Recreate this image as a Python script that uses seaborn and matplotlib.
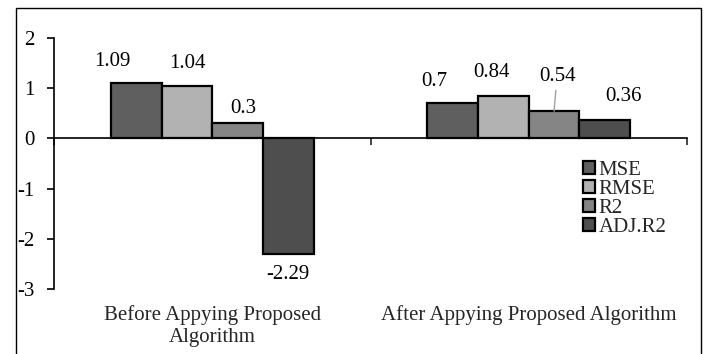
import matplotlib
matplotlib.use('Agg')
import matplotlib.pyplot as plt
from matplotlib.patches import Rectangle, Patch
import pandas as pd
import seaborn as sns

phases = ['Before Appying Proposed\nAlgorithm', 'After Appying Proposed Algorithm']
metrics = ['MSE', 'RMSE', 'R2', 'ADJ.R2']
before_vals = [1.09, 1.04, 0.3, -2.29]
after_vals = [0.7, 0.84, 0.54, 0.36]
colors = ['#5f5f5f', '#b2b2b2', '#858585', '#4e4e4e']

# where the value labels sit, in pixels from the end of each bar
label_dx = [[-24, 0, 6, 0], [-18, -12, 3, 19]]
label_dy = [[22, 23, 15, -21], [22, 24, 35, 24]]

rows = []
for phase, vals in zip(phases, [before_vals, after_vals]):
    for m, v in zip(metrics, vals):
        rows.append({'phase': phase, 'metric': m, 'value': v})
df = pd.DataFrame(rows)

sns.set_theme(style='white')
plt.rcParams['font.family'] = ['Liberation Serif', 'DejaVu Serif']
plt.rcParams['axes.unicode_minus'] = False
FS = 15

fig = plt.figure(figsize=(7.09, 3.54), dpi=100)
ax = fig.add_axes([54 / 709, 1 - 289.3 / 354, 633 / 709, 251.6 / 354])

sns.barplot(data=df, x='phase', y='value', hue='metric', order=phases,
            hue_order=metrics, palette=dict(zip(metrics, colors)),
            width=0.64, edgecolor='black', linewidth=1.6, errorbar=None,
            legend=False, ax=ax)

# value labels
for i, cont in enumerate(ax.containers):
    for j, bar in enumerate(cont):
        val = bar.get_height()
        x = bar.get_x() + bar.get_width() / 2
        kw = {}
        if j == 1 and i == 2:
            kw['arrowprops'] = dict(arrowstyle='-', color='#a0a0a0', lw=1,
                                    shrinkA=1, shrinkB=0)
        ax.annotate(f'{val:g}', xy=(x, val), xytext=(label_dx[j][i], label_dy[j][i]),
                    textcoords='offset pixels', ha='center', va='center',
                    fontsize=FS, color='black', **kw)

# axes styling
ax.set_xlim(-0.5, 1.5)
ax.set_ylim(-3, 2)
ax.set_yticks([-3, -2, -1, 0, 1, 2])
ax.set_xticks([-0.5, 0.5, 1.5])
ax.set_xticklabels([])
ax.set_xlabel('')
ax.set_ylabel('')
for s in ['top', 'right']:
    ax.spines[s].set_visible(False)
ax.spines['bottom'].set_position(('data', 0))
for s in ['left', 'bottom']:
    ax.spines[s].set_color('black')
    ax.spines[s].set_linewidth(1.2)
ax.tick_params(axis='y', left=True, direction='out', length=5, width=1.2,
               labelsize=FS, pad=9, colors='black')
ax.tick_params(axis='x', bottom=True, direction='out', length=5, width=1.2)

# category names under the plot
for i, p in enumerate(phases):
    ax.annotate(p, xy=(i, 0), xycoords=('data', 'axes fraction'),
                xytext=(0, -16), textcoords='offset pixels',
                ha='center', va='top', fontsize=FS, linespacing=1.2)

handles = [Patch(facecolor=c, edgecolor='black', linewidth=1.6) for c in colors]
ax.legend(handles, metrics, loc='upper left', bbox_to_anchor=(0.836, 0.51),
          frameon=False, handlelength=0.55, handleheight=0.55, handletextpad=0.2,
          labelspacing=0.0, borderpad=0, borderaxespad=0, fontsize=FS)

# outer frame (bottom edge falls outside the picture)
fig.add_artist(Rectangle((16 / 709, -0.1), (701 - 16) / 709, 1 - 8 / 354 + 0.1,
                         transform=fig.transFigure, fill=False,
                         edgecolor='black', linewidth=1))

fig.savefig('out.png', dpi=100)
